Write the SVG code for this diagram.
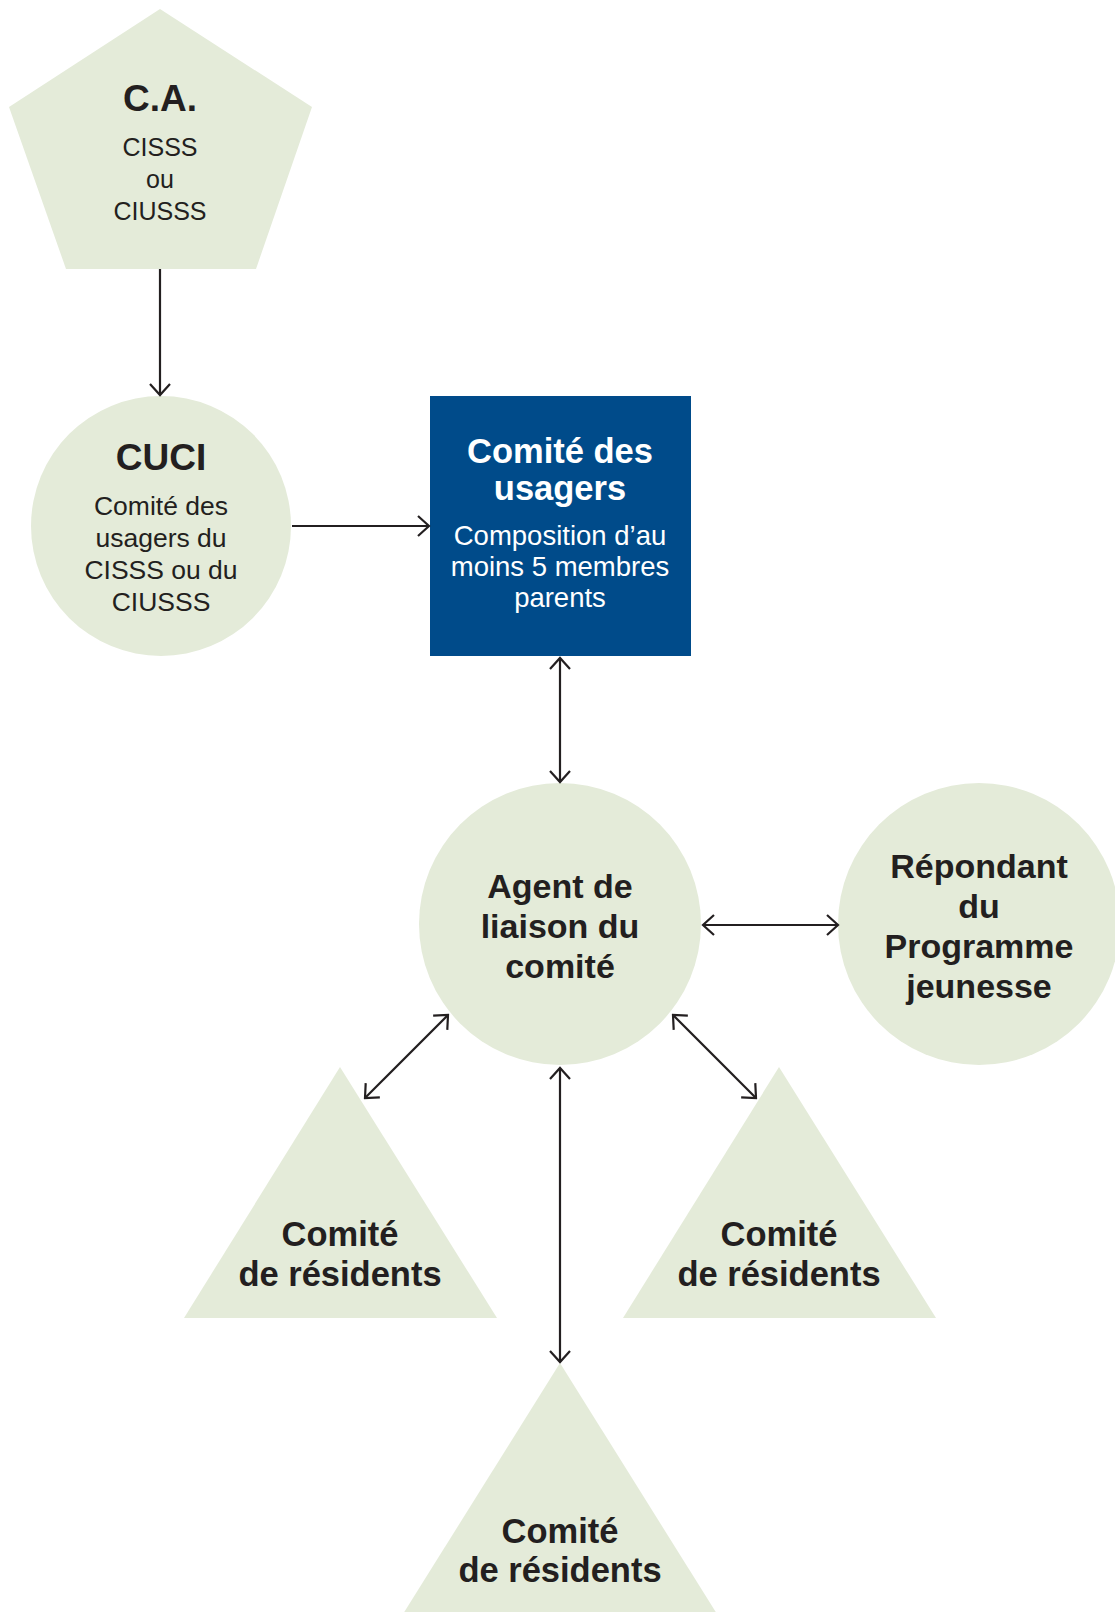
<svg xmlns="http://www.w3.org/2000/svg" width="1115" height="1612" viewBox="0 0 1115 1612">
<style>
.n{fill:#e4ebd9}
.b{font-family:"Liberation Sans",Arial,sans-serif;font-weight:bold;fill:#231f20;text-anchor:middle}
.r{font-family:"Liberation Sans",Arial,sans-serif;fill:#231f20;text-anchor:middle}
.w{fill:#ffffff}
.c{fill:none;stroke:#231f20;stroke-width:2.2}
</style>
<defs>
<marker id="ah" viewBox="-13 -12 15 24" refX="0" refY="0" markerWidth="15" markerHeight="24" markerUnits="userSpaceOnUse" orient="auto-start-reverse">
<path d="M-11,-10 L0,0 L-11,10" fill="none" stroke="#231f20" stroke-width="2.2"/>
</marker>
</defs>
<rect width="1115" height="1612" fill="#ffffff"/>
<g id="ca">
<polygon class="n" points="160,9 312,107 256,269 66,269 9,107"/>
<text class="b" x="160" y="111" font-size="37">C.A.</text>
<text class="r" x="160" y="156" font-size="25">CISSS</text>
<text class="r" x="160" y="188" font-size="25">ou</text>
<text class="r" x="160" y="220" font-size="25">CIUSSS</text>
</g>
<g id="cuci">
<circle class="n" cx="161" cy="526" r="130"/>
<text class="b" x="161" y="470" font-size="37">CUCI</text>
<text class="r" x="161" y="515" font-size="26.5">Comité des</text>
<text class="r" x="161" y="547" font-size="26.5">usagers du</text>
<text class="r" x="161" y="579" font-size="26.5">CISSS ou du</text>
<text class="r" x="161" y="611" font-size="26.5">CIUSSS</text>
</g>
<g id="comite-usagers">
<rect x="430" y="396" width="261" height="260" fill="#004b8a"/>
<text class="b w" x="560" y="463" font-size="34.5">Comité des</text>
<text class="b w" x="560" y="500" font-size="34.5">usagers</text>
<text class="r w" x="560" y="545" font-size="27.5">Composition d’au</text>
<text class="r w" x="560" y="576" font-size="27.5">moins 5 membres</text>
<text class="r w" x="560" y="607" font-size="27.5">parents</text>
</g>
<g id="agent">
<circle class="n" cx="560" cy="924" r="141"/>
<text class="b" x="560" y="898" font-size="34">Agent de</text>
<text class="b" x="560" y="938" font-size="34">liaison du</text>
<text class="b" x="560" y="978" font-size="34">comité</text>
</g>
<g id="repondant">
<circle class="n" cx="979" cy="924" r="141"/>
<text class="b" x="979" y="878" font-size="34">Répondant</text>
<text class="b" x="979" y="918" font-size="34">du</text>
<text class="b" x="979" y="958" font-size="34">Programme</text>
<text class="b" x="979" y="998" font-size="34">jeunesse</text>
</g>
<g id="residents-gauche">
<polygon class="n" points="340,1067 497,1318 184,1318"/>
<text class="b" x="340" y="1246" font-size="34.5">Comité</text>
<text class="b" x="340" y="1286" font-size="34.5">de résidents</text>
</g>
<g id="residents-droite">
<polygon class="n" points="779,1067 936,1318 623,1318"/>
<text class="b" x="779" y="1246" font-size="34.5">Comité</text>
<text class="b" x="779" y="1286" font-size="34.5">de résidents</text>
</g>
<g id="residents-bas">
<polygon class="n" points="560,1363 717,1614 403,1614"/>
<text class="b" x="560" y="1543" font-size="34.5">Comité</text>
<text class="b" x="560" y="1582" font-size="34.5">de résidents</text>
</g>
<g id="connecteurs">
<line class="c" x1="160" y1="269" x2="160" y2="395" marker-end="url(#ah)"/>
<line class="c" x1="292" y1="526" x2="429" y2="526" marker-end="url(#ah)"/>
<line class="c" x1="560" y1="658" x2="560" y2="782" marker-start="url(#ah)" marker-end="url(#ah)"/>
<line class="c" x1="703" y1="925" x2="838" y2="925" marker-start="url(#ah)" marker-end="url(#ah)"/>
<line class="c" x1="448" y1="1015" x2="365" y2="1098" marker-start="url(#ah)" marker-end="url(#ah)"/>
<line class="c" x1="673" y1="1015" x2="756" y2="1098" marker-start="url(#ah)" marker-end="url(#ah)"/>
<line class="c" x1="560" y1="1068" x2="560" y2="1362" marker-start="url(#ah)" marker-end="url(#ah)"/>
</g>
</svg>
